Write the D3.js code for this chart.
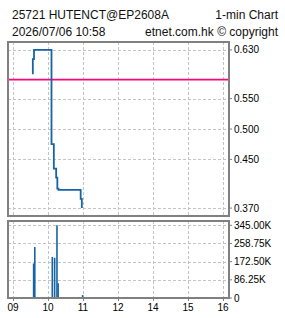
<!DOCTYPE html>
<html>
<head>
<meta charset="utf-8">
<script src="https://cdn.jsdelivr.net/npm/d3@7"></script>
<style>
  body { margin: 0; background: #fff; }
  svg { display: block; font-family: 'Liberation Sans', Arial, sans-serif; }
</style>
</head>
<body>
<div class="chart"></div>
<script>
// price steps (time, price) - two points at same minute = jump inside the minute
const priceTimes = ['09:34', '09:34', '09:36', '10:06', '10:10', '10:14', '10:16', '10:18', '10:56', '10:58']
const priceValues = [0.590, 0.615, 0.630, 0.475, 0.435, 0.420, 0.402, 0.400, 0.385, 0.370]

const volTimes = ['09:34', '09:36', '10:06', '10:10', '10:14', '10:16', '10:58']
const volValues = [164000, 242000, 195000, 191000, 345000, 70000, 14000]

const prevClose = 0.581

const priceTicks = [0.630, 0.550, 0.500, 0.450, 0.370]
const volTicks = [0, 86250, 172500, 258750, 345000]
const volTickLabels = ['0', '86.25K', '172.50K', '258.75K', '345.00K']
const hourTicks = [9, 10, 11, 12, 14, 15, 16]
const hourLabels = ['09', '10', '11', '12', '14', '15', '16']

const width = 285
const height = 318

const left = 8
const right = 229
const mainTop = 42
const mainBottom = 216
const volTop = 221
const volBottom = 298

const toMin = (s) => {
  const p = s.split(':')
  return +p[0] * 60 + +p[1]
}

const svg = d3.select('.chart')
  .append('svg')
  .attr('width', width)
  .attr('height', height)

// lunch break squeezed out: 12:00 and 13:00 share the same x
const x = d3.scaleLinear()
  .domain([540, 720, 780, 960])
  .range([13, 118, 118, 223])

const y = d3.scaleLinear()
  .domain([0.357, 0.643])
  .range([mainBottom, mainTop])

const yv = d3.scaleLinear()
  .domain([0, 345000])
  .range([volBottom, volTop + 4.3])

const gridColor = '#c4c4c4'
const axisColor = '#808080'

// header
const header = svg.append('g')
  .style('font-size', '12px')
  .attr('fill', '#111')
header.append('text').attr('x', 12).attr('y', 19).text('25721 HUTENCT@EP2608A')
header.append('text').attr('x', 278).attr('y', 19).attr('text-anchor', 'end').text('1-min Chart')
header.append('text').attr('x', 12).attr('y', 36).text('2026/07/06 10:58')
header.append('text').attr('x', 278).attr('y', 36).attr('text-anchor', 'end').text('etnet.com.hk © copyright')

const hourX = (h) => x(h * 60)

// vertical grid in both panels
const drawVGrid = (top, bottom) => {
  svg.append('g')
    .selectAll('line')
    .data(hourTicks)
    .enter()
    .append('line')
    .attr('x1', (d) => hourX(d) + 0.5)
    .attr('x2', (d) => hourX(d) + 0.5)
    .attr('y1', top)
    .attr('y2', bottom)
    .attr('stroke', gridColor)
    .attr('stroke-dasharray', '3,2')
}
drawVGrid(mainTop, mainBottom)
drawVGrid(volTop, volBottom)

// horizontal grid main
svg.append('g')
  .selectAll('line')
  .data(priceTicks)
  .enter()
  .append('line')
  .attr('x1', left)
  .attr('x2', right)
  .attr('y1', (d) => Math.round(y(d)) + 0.5)
  .attr('y2', (d) => Math.round(y(d)) + 0.5)
  .attr('stroke', gridColor)
  .attr('stroke-dasharray', '3,2')

// horizontal grid volume
svg.append('g')
  .selectAll('line')
  .data(volTicks.slice(1))
  .enter()
  .append('line')
  .attr('x1', left)
  .attr('x2', right)
  .attr('y1', (d) => Math.round(yv(d)) + 0.5)
  .attr('y2', (d) => Math.round(yv(d)) + 0.5)
  .attr('stroke', gridColor)
  .attr('stroke-dasharray', '3,2')

// previous close
svg.append('line')
  .attr('x1', left)
  .attr('x2', right)
  .attr('y1', y(prevClose))
  .attr('y2', y(prevClose))
  .attr('stroke', '#f5087c')
  .attr('stroke-width', 1.8)

// price line
const pts = priceTimes.map((t, i) => [toMin(t), priceValues[i]])
const line = d3.line()
  .x((d) => x(d[0]))
  .y((d) => y(d[1]))
  .curve(d3.curveStepAfter)

svg.append('path')
  .attr('d', line(pts))
  .attr('fill', 'none')
  .attr('stroke', '#1565a6')
  .attr('stroke-width', 1.8)

// volume bars
svg.append('g')
  .selectAll('rect')
  .data(volTimes)
  .enter()
  .append('rect')
  .attr('x', (d) => x(toMin(d)))
  .attr('width', 1.6)
  .attr('y', (d, i) => yv(volValues[i]))
  .attr('height', (d, i) => volBottom - yv(volValues[i]))
  .attr('fill', '#1565a6')

// panel frames
const frame = (top, bottom) => {
  svg.append('rect')
    .attr('x', left)
    .attr('y', top)
    .attr('width', right - left)
    .attr('height', bottom - top)
    .attr('fill', 'none')
    .attr('stroke', axisColor)
    .attr('stroke-width', 2)
}
frame(mainTop, mainBottom)
frame(volTop, volBottom)

// right labels
const labels = svg.append('g').style('font-size', '10px').attr('fill', '#000')

labels.selectAll('.pl')
  .data(priceTicks)
  .enter()
  .append('text')
  .attr('class', 'pl')
  .attr('x', 234)
  .attr('y', (d) => y(d))
  .attr('dy', '0.35em')
  .text((d) => d3.format('.3f')(d))

labels.selectAll('.vl')
  .data(volTicks)
  .enter()
  .append('text')
  .attr('class', 'vl')
  .attr('x', 234)
  .attr('y', (d) => yv(d))
  .attr('dy', '0.35em')
  .text((d, i) => volTickLabels[i])

const ticks = svg.append('g').attr('stroke', axisColor)
priceTicks.forEach((d) => {
  ticks.append('line').attr('x1', right).attr('x2', right + 3).attr('y1', y(d)).attr('y2', y(d))
})
volTicks.forEach((d) => {
  ticks.append('line').attr('x1', right).attr('x2', right + 3).attr('y1', yv(d)).attr('y2', yv(d))
})
hourTicks.forEach((h) => {
  ticks.append('line').attr('x1', hourX(h) + 0.5).attr('x2', hourX(h) + 0.5).attr('y1', volBottom).attr('y2', volBottom + 3)
})

labels.selectAll('.hl')
  .data(hourTicks)
  .enter()
  .append('text')
  .attr('class', 'hl')
  .attr('x', (d) => hourX(d))
  .attr('y', 311)
  .attr('text-anchor', 'middle')
  .text((d, i) => hourLabels[i])
</script>
</body>
</html>
